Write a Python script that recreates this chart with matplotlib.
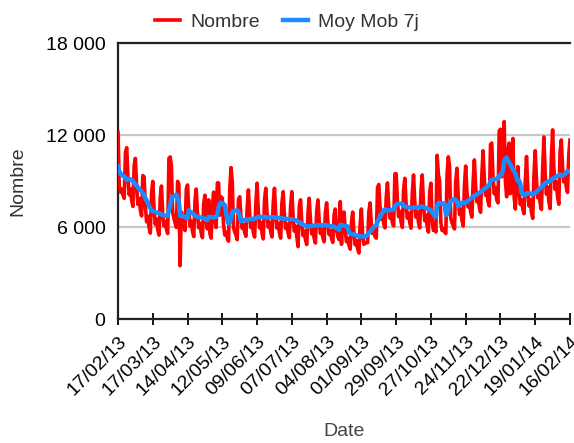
import pandas as pd
import matplotlib.pyplot as plt
from matplotlib.transforms import ScaledTranslation

plt.rcParams['font.family'] = ['Liberation Sans', 'DejaVu Sans']

# --------------------------------------------------
# data (daily counts, 17/02/13 -> 16/02/14)
# --------------------------------------------------

start_date = "2013-02-17"

# the six days before the first date, only used by the 7-day moving average
prior_days = [10650, 9600, 9050, 8550, 8000, 11700]

nombre = [
    12200, 8700, 8300, 8500, 8100, 7900, 10900,
    11200, 9280, 8130, 8520, 7750, 7370, 10050,
    10500, 8630, 7500, 7880, 7130, 6750, 9380,
    9300, 7470, 6370, 6730, 6000, 5630, 8200,
    9000, 7250, 6200, 6550, 5850, 5500, 7950,
    8700, 6800, 6100, 6400, 5900, 5600, 10500,
    10600, 10000, 7000, 6600, 6300, 6000, 9000,
    8800, 3500, 7000, 6500, 6200, 5800, 8500,
    8770, 7090, 6080, 6410, 5740, 5400, 7760,
    8500, 6920, 5970, 6280, 5650, 5330, 7550,
    8100, 6500, 5900, 7800, 5600, 5300, 7300,
    8300, 6500, 6000, 8900, 8900, 6800, 8000,
    7900, 6200, 5500, 5700, 5300, 5100, 8500,
    9900, 9000, 6000, 5700, 5500, 5200, 7800,
    8000, 6710, 5930, 6190, 5680, 5420, 7230,
    8440, 6910, 5990, 6290, 5680, 5370, 7520,
    8880, 7060, 5970, 6340, 5610, 5250, 7790,
    8550, 6970, 6020, 6330, 5700, 5380, 7600,
    8550, 6930, 5950, 6280, 5630, 5300, 7580,
    8330, 6830, 5930, 6230, 5630, 5330, 7430,
    8330, 6720, 5760, 6080, 5440, 4750, 7370,
    7800, 6340, 5470, 5760, 5180, 4880, 6930,
    7900, 6440, 5570, 5860, 5280, 4980, 7030,
    7790, 6420, 5600, 5880, 5330, 5060, 6970,
    7600, 6310, 5530, 5790, 5280, 5020, 6830,
    7200, 5900, 5400, 5200, 7680, 4900, 6700,
    7000, 5790, 5070, 5310, 4830, 4580, 6280,
    7000, 5670, 4870, 5130, 4600, 4330, 6200,
    7200, 5500, 4900, 5000, 5000, 5000, 7000,
    7600, 6200, 5600, 5800, 5400, 5300, 8600,
    8800, 7380, 6530, 6820, 6250, 5970, 7950,
    8900, 7400, 6600, 6900, 6300, 6100, 9500,
    9500, 7750, 6700, 7050, 6350, 6000, 8450,
    9200, 7580, 6600, 6930, 6280, 5950, 8230,
    9420, 7700, 6660, 7010, 6320, 5970, 8390,
    9420, 7550, 6430, 6810, 6060, 5690, 8300,
    8880, 6500, 5800, 6000, 5700, 10700, 9500,
    9000, 6300, 5800, 5900, 5700, 5600, 9500,
    10600, 10000, 6600, 6300, 6100, 5900, 9000,
    9860, 7980, 6850, 7220, 6470, 6090, 8730,
    10000, 8330, 7330, 7670, 7000, 6670, 9000,
    10400, 8690, 7670, 8010, 7330, 6980, 9380,
    11000, 9200, 8100, 8500, 7700, 7400, 11400,
    11500, 9300, 8200, 8600, 7800, 7600, 12300,
    12400, 9300, 10000, 12900, 9000, 8000, 11000,
    11500, 8200, 9000, 11800, 8000, 7200, 9000,
    9970, 8430, 7500, 7810, 7190, 6890, 9040,
    10620, 8600, 7390, 7800, 6990, 6590, 9410,
    11000, 9080, 7930, 8320, 7550, 7170, 9850,
    11900, 9570, 8170, 8630, 7700, 7230, 10500,
    12360, 9940, 8480, 8970, 8000, 7510, 10910,
    11700, 9990, 8970, 9310, 8630, 8280, 10680,
    11700,
]

tick_labels = ["17/02/13", "17/03/13", "14/04/13", "12/05/13", "09/06/13",
               "07/07/13", "04/08/13", "01/09/13", "29/09/13", "27/10/13",
               "24/11/13", "22/12/13", "19/01/14", "16/02/14"]

y_ticks = [0, 6000, 12000, 18000]
y_labels = ["0", "6 000", "12 000", "18 000"]

# --------------------------------------------------
# moving average (7 days, trailing)
# --------------------------------------------------

dates = pd.date_range(start_date, periods=len(nombre), freq="D")
full = pd.Series(prior_days + nombre)
moy_mob = full.rolling(7).mean().iloc[len(prior_days):].to_numpy()

# --------------------------------------------------
# plot
# --------------------------------------------------

fig = plt.figure(figsize=(5.74, 4.43), dpi=100)
ax = fig.add_axes([0.2056, 0.279, 0.7874, 0.623])

ax.plot(dates, nombre, color="#ff0000", lw=2.6, label="Nombre", zorder=3)
ax.plot(dates, moy_mob, color="#1a8cff", lw=3.2, label="Moy Mob 7j", zorder=4)

ax.set_xlim(dates[0], dates[-1])
ax.set_ylim(0, 18000)
ax.set_yticks(y_ticks)
ax.set_yticklabels(y_labels)
ax.set_xticks(dates[::28])
ax.set_xticklabels(tick_labels, rotation=45, ha="right", va="top",
                   rotation_mode="anchor")
shift = ScaledTranslation(0.04, 0, fig.dpi_scale_trans)
for lab in ax.get_xticklabels():
    lab.set_transform(lab.get_transform() + shift)

ax.grid(axis="y", color="#c8c8c8", lw=1.6, zorder=1)
ax.set_axisbelow(True)

for s in ["left", "bottom", "top"]:
    ax.spines[s].set_linewidth(1.6)
    ax.spines[s].set_color("#222222")
ax.spines["right"].set_visible(False)

ax.tick_params(axis="y", length=0, pad=9, labelsize=14)
ax.tick_params(axis="x", direction="inout", length=8, width=1.3,
               labelsize=14, pad=6)

# axis titles placed where the reference has them
fig.text(344 / 574, 1 - 432 / 443, "Date", fontsize=14, color="#444444",
         ha="center", va="center")
fig.text(18 / 574, 1 - 181 / 443, "Nombre", fontsize=14, color="#333333",
         ha="center", va="center", rotation=90)

fig.legend(loc="upper center", bbox_to_anchor=(0.5, 1.01), ncol=2,
           frameon=False, handlelength=1.3, handletextpad=0.5,
           columnspacing=1.2, fontsize=14, labelcolor="#333333")

fig.savefig("out.png", dpi=100)
